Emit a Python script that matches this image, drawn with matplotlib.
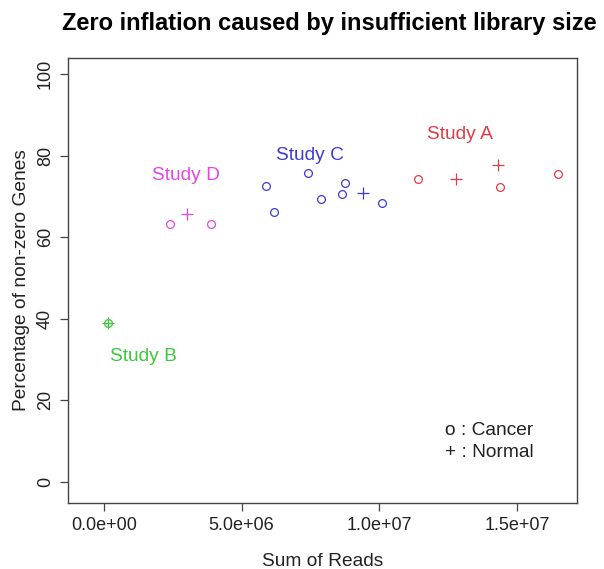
import matplotlib
matplotlib.use("Agg")
import matplotlib.pyplot as plt

plt.rcParams['font.family'] = ['Liberation Sans', 'DejaVu Sans']

studies = ["Study A", "Study B", "Study C", "Study D"]
colors = {"Study A": "#e03c46", "Study B": "#3cc83c", "Study C": "#3c3cd2", "Study D": "#e446e4"}

cancer_x = {
    "Study A": [11.4e6, 14.4e6, 16.5e6],
    "Study B": [0.15e6],
    "Study C": [5.88e6, 6.17e6, 7.4e6, 7.88e6, 8.64e6, 8.75e6, 10.1e6],
    "Study D": [2.4e6, 3.9e6],
}
cancer_y = {
    "Study A": [74.4, 72.4, 75.6],
    "Study B": [39.0],
    "Study C": [72.6, 66.3, 75.8, 69.4, 70.7, 73.4, 68.5],
    "Study D": [63.3, 63.3],
}
normal_x = {
    "Study A": [12.8e6, 14.3e6],
    "Study B": [0.15e6],
    "Study C": [9.4e6],
    "Study D": [3.0e6],
}
normal_y = {
    "Study A": [74.4, 77.8],
    "Study B": [39.0],
    "Study C": [70.9],
    "Study D": [65.8],
}
label_pos = {
    "Study A": (12.95e6, 85.2),
    "Study B": (1.42e6, 30.7),
    "Study C": (7.48e6, 80.0),
    "Study D": (2.98e6, 75.1),
}

xticks = [0, 5e6, 1e7, 1.5e7]
xtick_labels = ["0.0e+00", "5.0e+06", "1.0e+07", "1.5e+07"]
yticks = [0, 20, 40, 60, 80, 100]

fig = plt.figure(figsize=(6.04, 5.69), dpi=100)
ax = fig.add_axes([0.1126, 0.116, 0.8424, 0.782])

for s in studies:
    c = colors[s]
    ax.plot(cancer_x[s], cancer_y[s], linestyle='none', marker='o', ms=5.6,
            mfc='none', mec=c, mew=0.9)
    ax.plot(normal_x[s], normal_y[s], linestyle='none', marker='+', ms=8,
            mec=c, mew=0.9)
    lx, ly = label_pos[s]
    ax.text(lx, ly, s, color=c, fontsize=13.8, ha='center', va='center')

ax.text(14.0e6, 12.5, "o : Cancer", fontsize=13.8, ha='center', va='center', color='#222222')
ax.text(14.0e6, 7.1, "+ : Normal", fontsize=13.8, ha='center', va='center', color='#222222')

ax.set_xlim(-1.31e6, 17.18e6)
ax.set_ylim(-5.2, 104.0)
ax.set_xticks(xticks)
ax.set_xticklabels(xtick_labels)
ax.set_yticks(yticks)
ax.set_yticklabels([str(v) for v in yticks], rotation=90, va='center')
ax.tick_params(labelsize=13, length=6, width=0.9, color='#444444', labelcolor='#222222', pad=4)
for sp in ax.spines.values():
    sp.set_color('#444444')
    sp.set_linewidth(1.0)

ax.set_xlabel("Sum of Reads", fontsize=13.8, labelpad=14, color='#222222')
ax.set_ylabel("Percentage of non-zero Genes", fontsize=13.8, labelpad=5, color='#222222')
fig.text(0.546, 0.958, "Zero inflation caused by insufficient library size",
         fontsize=17, fontweight='bold', ha='center', va='center')

fig.savefig("out.png", dpi=100)
